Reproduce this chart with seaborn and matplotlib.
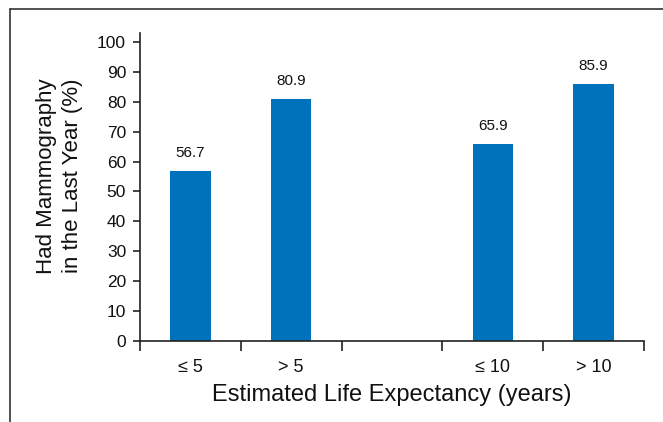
import matplotlib
matplotlib.use("Agg")
import matplotlib.pyplot as plt
from matplotlib.lines import Line2D
import seaborn as sns
import pandas as pd
import numpy as np

categories = ["≤ 5", "> 5", " ", "≤ 10", "> 10"]
plot_cats = ["≤ 5", "> 5", "≤ 10", "> 10"]
values = [56.7, 80.9, 65.9, 85.9]
value_labels = ["56.7", "80.9", "65.9", "85.9"]
yticks = [0, 10, 20, 30, 40, 50, 60, 70, 80, 90, 100]

sns.set_theme(style="ticks")
plt.rcParams['font.family'] = ['Liberation Sans', 'DejaVu Sans']

df = pd.DataFrame({"cat": plot_cats, "val": values})

fig = plt.figure(figsize=(6.63, 4.22), dpi=100)
ax = fig.add_axes([140/663, 1-341/422, (644-140)/663, (341-33)/422])

sns.barplot(data=df, x="cat", y="val", order=categories, color="#0072BC",
            saturation=1, width=0.4, ax=ax, edgecolor="none")

for cont in ax.containers:
    ax.bar_label(cont, labels=value_labels, padding=8, fontsize=11, color="#111111")

ax.set_ylim(0, 103)
ax.set_xlim(-0.5, len(categories) - 0.5)
ax.set_yticks(yticks)
ax.set_yticklabels([str(t) for t in yticks], fontsize=12.5, color="#111111")
ax.tick_params(axis="y", direction="out", length=5, width=1.2, color="#222222", pad=5)

# major ticks at slot boundaries, labels at slot centers (minor)
ax.set_xticks(np.arange(-0.5, len(categories), 1.0))
ax.set_xticklabels([])
ax.tick_params(axis="x", which="major", direction="out", length=7, width=1.2, color="#222222")
ax.set_xticks(np.arange(len(categories)), minor=True)
ax.set_xticklabels(categories, minor=True, fontsize=13, color="#111111")
ax.tick_params(axis="x", which="minor", length=0, pad=13)

ax.set_xlabel("Estimated Life Expectancy (years)", fontsize=17,
              color="#111111", labelpad=6)
ax.set_ylabel("Had Mammography\nin the Last Year (%)", fontsize=16,
              color="#111111", linespacing=1.3)
ax.yaxis.set_label_coords(-0.113, 0.536)

for s in ["top", "right"]:
    ax.spines[s].set_visible(False)
for s in ["left", "bottom"]:
    ax.spines[s].set_color("#222222")
    ax.spines[s].set_linewidth(1.2)

# figure border (top and left)
fig.add_artist(Line2D([10/663, 1.0], [1-9/422, 1-9/422], transform=fig.transFigure,
                      color="#333333", lw=1.2))
fig.add_artist(Line2D([10/663, 10/663], [1-9/422, 0.0], transform=fig.transFigure,
                      color="#333333", lw=1.2))

fig.savefig("out.png", dpi=100)
